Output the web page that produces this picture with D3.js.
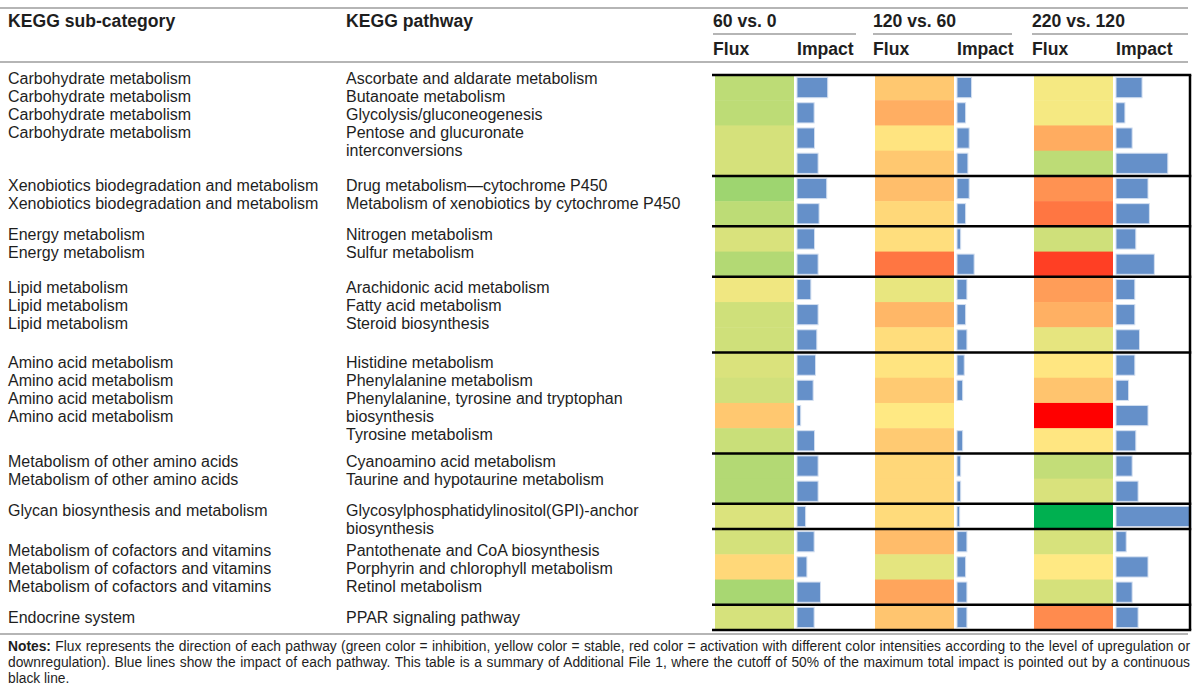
<!DOCTYPE html>
<html><head><meta charset="utf-8">
<script src="https://cdn.jsdelivr.net/npm/d3@7"></script>
<style>
body{margin:0;background:#fff}
svg{display:block}
text{font-family:"Liberation Sans",Arial,Helvetica,sans-serif;fill:#1e1e1e}
</style>
</head><body>
<svg id="chart" width="1200" height="696"></svg>
<script>
// ---------- DATA ----------
const comparisons = ["60 vs. 0", "120 vs. 60", "220 vs. 120"];
const subHeaders = ["Flux", "Impact"];
const columnHeaders = ["KEGG sub-category", "KEGG pathway"];

// heatmap rows (one per pathway) and group sizes (separated by black cutoff lines)
const pathways = [
  "Ascorbate and aldarate metabolism", "Butanoate metabolism", "Glycolysis/gluconeogenesis", "Pentose and glucuronate interconversions",
  "Drug metabolism—cytochrome P450", "Metabolism of xenobiotics by cytochrome P450",
  "Nitrogen metabolism", "Sulfur metabolism",
  "Arachidonic acid metabolism", "Fatty acid metabolism", "Steroid biosynthesis",
  "Histidine metabolism", "Phenylalanine metabolism", "Phenylalanine, tyrosine and tryptophan biosynthesis", "Tyrosine metabolism",
  "Cyanoamino acid metabolism", "Taurine and hypotaurine metabolism",
  "Glycosylphosphatidylinositol(GPI)-anchor biosynthesis",
  "Pantothenate and CoA biosynthesis", "Porphyrin and chlorophyll metabolism", "Retinol metabolism",
  "PPAR signaling pathway"
];
const groupSizes = [4, 2, 2, 3, 4, 2, 1, 3, 1];

// flux: -1 = strong inhibition (green), 0 = stable (yellow), +1 = strong activation (red)
const flux60  = [-0.26, -0.26, -0.165, -0.165, -0.38, -0.26, -0.15, -0.30, -0.06, -0.19, -0.19,
                 -0.145, -0.18, 0.15, -0.21, -0.30, -0.30, -0.14, -0.17, 0.08, -0.34, -0.16];
const flux120 = [0.15, 0.26, 0.03, 0.15, 0.19, 0.08, 0.055, 0.50, -0.09, 0.22, 0.06,
                 0.03, 0.14, 0.01, 0.14, 0.085, 0.085, 0.07, 0.20, -0.105, 0.30, 0.16];
const flux220 = [-0.04, -0.04, 0.27, -0.26, 0.38, 0.50, -0.19, 0.73, 0.33, 0.25, -0.10,
                 0.02, 0.166, 1.0, 0.02, -0.235, -0.15, -1.0, -0.155, 0.01, -0.165, 0.41];

// impact (relative units)
const impact60  = [31, 17.3, 17.7, 21.3, 30, 22.3, 17.7, 21.3, 14, 21.3, 20,
                   18.7, 16.3, 3.7, 17.7, 21.3, 21.3, 8.7, 17.3, 10, 23.7, 17.3];
const impact120 = [14.7, 8.7, 12.3, 11, 12.3, 8.7, 3.7, 17.3, 10, 8.7, 10,
                   7.3, 5.7, 0, 5.7, 3.7, 3.7, 2.7, 10, 8.7, 10, 10];
const impact220 = [26.3, 9, 16.3, 52.3, 32.3, 33.7, 20, 38.7, 19, 19, 23.7,
                   19, 12.7, 32.3, 20, 16.3, 22.3, 75.7, 10.3, 32.3, 16.3, 22.3];

// left table text (as printed, line by line, per block)
const subCategoryText = [
  ["Carbohydrate metabolism", "Carbohydrate metabolism", "Carbohydrate metabolism", "Carbohydrate metabolism"],
  ["Xenobiotics biodegradation and metabolism", "Xenobiotics biodegradation and metabolism"],
  ["Energy metabolism", "Energy metabolism"],
  ["Lipid metabolism", "Lipid metabolism", "Lipid metabolism"],
  ["Amino acid metabolism", "Amino acid metabolism", "Amino acid metabolism", "Amino acid metabolism"],
  ["Metabolism of other amino acids", "Metabolism of other amino acids"],
  ["Glycan biosynthesis and metabolism"],
  ["Metabolism of cofactors and vitamins", "Metabolism of cofactors and vitamins", "Metabolism of cofactors and vitamins"],
  ["Endocrine system"]
];
const pathwayText = [
  ["Ascorbate and aldarate metabolism", "Butanoate metabolism", "Glycolysis/gluconeogenesis", "Pentose and glucuronate", "interconversions"],
  ["Drug metabolism—cytochrome P450", "Metabolism of xenobiotics by cytochrome P450"],
  ["Nitrogen metabolism", "Sulfur metabolism"],
  ["Arachidonic acid metabolism", "Fatty acid metabolism", "Steroid biosynthesis"],
  ["Histidine metabolism", "Phenylalanine metabolism", "Phenylalanine, tyrosine and tryptophan", "biosynthesis", "Tyrosine metabolism"],
  ["Cyanoamino acid metabolism", "Taurine and hypotaurine metabolism"],
  ["Glycosylphosphatidylinositol(GPI)-anchor", "biosynthesis"],
  ["Pantothenate and CoA biosynthesis", "Porphyrin and chlorophyll metabolism", "Retinol metabolism"],
  ["PPAR signaling pathway"]
];

const notesBold = "Notes:";
const notesLines = [
  " Flux represents the direction of each pathway (green color = inhibition, yellow color = stable, red color = activation with different color intensities according to the level of upregulation or",
  "downregulation). Blue lines show the impact of each pathway. This table is a summary of Additional File 1, where the cutoff of 50% of the maximum total impact is pointed out by a continuous",
  "black line."
];

// ---------- LAYOUT ----------
const W = 1200, H = 696;
const ruleRight = 1188;
const blockTextY = [78, 185, 234, 287, 362, 461, 510, 550, 617]; // visual centre of first line of each text block
const lineH = 18;
const colSubX = 8, colPathX = 346;
const compX = [713, 873, 1032];            // left edge of each comparison column
const fluxW = 80;
const impactOffset = 84;
const heatTop = 75, heatBottom = 630, boxLeft = 712, boxRight = 1190;

const svg = d3.select("#chart");

// rules
const rules = svg.append("g").attr("stroke", "#9d9d9d").attr("stroke-width", 1.5);
[8, 62, 634].forEach(y => rules.append("line").attr("x1", 0).attr("x2", ruleRight).attr("y1", y).attr("y2", y));
const compRuleEnd = [856, 1012, ruleRight];
compX.forEach((x, i) => rules.append("line").attr("x1", x).attr("x2", compRuleEnd[i]).attr("y1", 34).attr("y2", 34));

// headers
const hdr = svg.append("g").attr("font-weight", "bold").attr("font-size", 17.6);
hdr.append("text").attr("x", colSubX).attr("y", 27).text(columnHeaders[0]);
hdr.append("text").attr("x", colPathX).attr("y", 27).text(columnHeaders[1]);
comparisons.forEach((c, i) => {
  hdr.append("text").attr("x", compX[i]).attr("y", 27).text(c);
  hdr.append("text").attr("x", compX[i]).attr("y", 55).text(subHeaders[0]);
  hdr.append("text").attr("x", compX[i] + impactOffset).attr("y", 55).text(subHeaders[1]);
});

// left text blocks
const body = svg.append("g").attr("font-size", 16);
subCategoryText.forEach((lines, b) => {
  lines.forEach((t, j) => body.append("text").attr("x", colSubX).attr("y", blockTextY[b] + j * lineH + 6).text(t));
});
pathwayText.forEach((lines, b) => {
  lines.forEach((t, j) => body.append("text").attr("x", colPathX).attr("y", blockTextY[b] + j * lineH + 6).text(t));
});

// heatmap
const y = d3.scaleBand().domain(d3.range(pathways.length)).range([heatTop, heatBottom]).padding(0);
const color = d3.scaleLinear().domain([-1, 0, 1]).range(["#00b050", "#ffeb84", "#ff0000"]).interpolate(d3.interpolateRgb);
const allImpact = impact60.concat(impact120, impact220);
const xImpact = d3.scaleLinear().domain([0, d3.max(allImpact)]).range([0, 75]);

const fluxSeries = [flux60, flux120, flux220];
const impactSeries = [impact60, impact120, impact220];

fluxSeries.forEach((series, c) => {
  svg.append("g").selectAll("rect").data(series).join("rect")
    .attr("x", compX[c] + 2)
    .attr("y", (d, i) => y(i))
    .attr("width", fluxW - 1)
    .attr("height", y.bandwidth() + 0.5)
    .attr("fill", d => color(d));
});
impactSeries.forEach((series, c) => {
  svg.append("g").selectAll("rect").data(series.map((v, i) => ({v, i})).filter(d => d.v > 0)).join("rect")
    .attr("x", compX[c] + impactOffset)
    .attr("y", d => y(d.i) + 2.5)
    .attr("width", d => xImpact(d.v))
    .attr("height", y.bandwidth() - 5)
    .attr("fill", "#6590c9")
    .attr("stroke", "#d3dff0")
    .attr("stroke-width", 1);
});

// black cutoff lines
const bounds = [0].concat(Array.from(d3.cumsum(groupSizes)));
const blk = svg.append("g").attr("stroke", "#000").attr("stroke-width", 2.5);
bounds.forEach(b => {
  const yy = b < pathways.length ? y(b) : heatBottom;
  blk.append("line").attr("x1", boxLeft).attr("x2", boxRight + 1.25).attr("y1", yy).attr("y2", yy);
});
blk.append("line").attr("x1", boxRight).attr("x2", boxRight).attr("y1", heatTop).attr("y2", heatBottom);

// notes (justified)
const notes = svg.append("g").attr("font-size", 13.8);
const noteY = [651, 667, 683];
const targetW = 1190 - colSubX;
notesLines.forEach((line, k) => {
  const t = notes.append("text").attr("x", colSubX).attr("y", noteY[k]);
  if (k === 0) t.append("tspan").attr("font-weight", "bold").text(notesBold);
  t.append("tspan").text(line);
  if (k < 2) {
    const natural = t.node().getComputedTextLength();
    const spaces = (line.match(/ /g) || []).length;
    t.attr("word-spacing", (targetW - natural) / spaces);
  }
});
</script>
</body></html>
